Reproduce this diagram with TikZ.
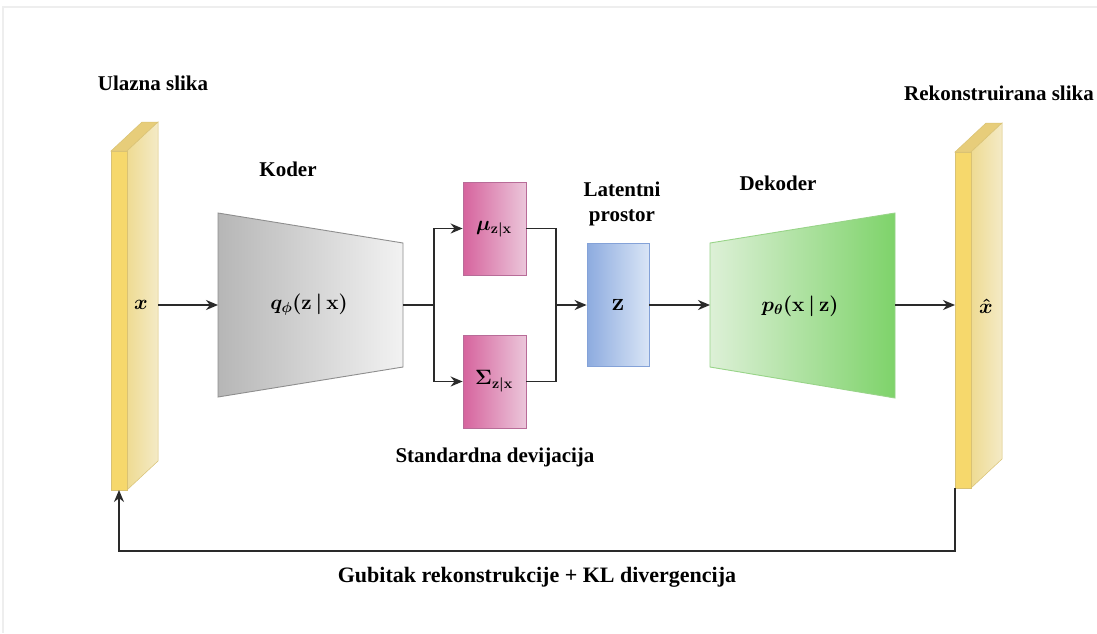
\documentclass[tikz,border=0pt]{standalone}
\usepackage{fontspec}
\setmainfont{Liberation Serif}[BoldFont={Liberation Serif Bold}]
\usetikzlibrary{arrows.meta}
\definecolor{slabfront}{HTML}{F6D86C}
\definecolor{slabsideL}{HTML}{EEDB92}
\definecolor{slabsideR}{HTML}{F4EAC6}
\definecolor{slabtop}{HTML}{E7CD7A}
\definecolor{slabedge}{HTML}{D9C274}
\definecolor{encL}{HTML}{B6B6B6}
\definecolor{encR}{HTML}{F2F2F2}
\definecolor{encedge}{HTML}{8E8E8E}
\definecolor{decL}{HTML}{DDF0D7}
\definecolor{decR}{HTML}{7ED36A}
\definecolor{decedge}{HTML}{98D488}
\definecolor{pinkL}{HTML}{D6639D}
\definecolor{pinkR}{HTML}{EBC6DA}
\definecolor{pinkedge}{HTML}{B86C98}
\definecolor{blueL}{HTML}{8DABDF}
\definecolor{blueR}{HTML}{D9E5F6}
\definecolor{blueedge}{HTML}{84A2D8}
\definecolor{wire}{HTML}{2A2A2A}
\definecolor{frameline}{HTML}{EEEEEE}
\tikzset{
  lbl/.style={font=\bfseries\fontsize{21}{24.5}\selectfont, text=black, align=center, inner sep=0pt},
  mth/.style={font=\boldmath\fontsize{19.5}{24}\selectfont, inner sep=0pt},
  arr/.style={draw=wire, line width=1.6pt, -{Stealth[length=12pt,width=10pt]}},
  wireln/.style={draw=wire, line width=1.6pt},
  pinkbox/.style={draw=pinkedge, line width=0.8pt, left color=pinkL, right color=pinkR, minimum width=63pt, minimum height=93pt, inner sep=0pt},
  bluebox/.style={draw=blueedge, line width=0.8pt, left color=blueL, right color=blueR, minimum width=62pt, minimum height=123pt, inner sep=0pt},
  ghost/.style={draw=none, inner sep=0pt, outer sep=0pt}
}
\begin{document}
\begin{tikzpicture}[x=1pt,y=-1pt]
\useasboundingbox (0,0) rectangle (1097,633);
\fill[white] (0,0) rectangle (1097,633);
\draw[frameline, line width=2pt] (3,633) -- (3,7) -- (1097,7);

% ---------- left slab ----------
\fill[slabtop, draw=slabedge, line width=0.5pt] (111,151) -- (142,122) -- (158,122) -- (127,151) -- cycle;
\shade[left color=slabsideL, right color=slabsideR, draw=slabedge, line width=0.5pt] (127,151) -- (158,122) -- (158,461) -- (127,490) -- cycle;
\node[ghost, fill=slabfront, draw=slabedge, line width=0.5pt, minimum width=16pt, minimum height=339pt] (xfront) at (119,320.5) {};
\node[ghost, minimum width=31pt, minimum height=368pt] (xside) at (142.5,305) {};
\node[mth] (xlab) at (141,305) {$x$};

% ---------- right slab ----------
\fill[slabtop, draw=slabedge, line width=0.5pt] (955,152) -- (986,123) -- (1002,123) -- (971,152) -- cycle;
\shade[left color=slabsideL, right color=slabsideR, draw=slabedge, line width=0.5pt] (971,152) -- (1002,123) -- (1002,459) -- (971,488) -- cycle;
\node[ghost, fill=slabfront, draw=slabedge, line width=0.5pt, minimum width=16pt, minimum height=336pt] (rfront) at (963,320) {};
\node[mth] (rlab) at (986,306) {$\hat{x}$};

% ---------- encoder ----------
\shade[left color=encL, right color=encR, draw=encedge, line width=0.9pt] (218,213) -- (403,243) -- (403,367) -- (218,397) -- cycle;
\node[ghost, minimum width=185pt, minimum height=184pt] (enc) at (310.5,305) {};
\node[mth] (enclab) at (309,305) {$q_{\phi}(\mathbf{z}\,|\,\mathbf{x})$};

% ---------- decoder ----------
\shade[left color=decL, right color=decR, draw=decedge, line width=0.9pt] (710,243) -- (895,213) -- (895,398) -- (710,367) -- cycle;
\node[ghost, minimum width=185pt, minimum height=185pt] (dec) at (802.5,305) {};
\node[mth] (declab) at (800,306) {$p_{\theta}(\mathbf{x}\,|\,\mathbf{z})$};

% ---------- latent boxes ----------
\node[pinkbox] (mu) at (494.5,228.5) {};
\node[mth] (mulab) at (494,229) {$\mu_{\mathbf{z}|\mathbf{x}}$};
\node[pinkbox] (sig) at (494.5,381.5) {};
\node[mth] (siglab) at (494,381) {$\mathbf{\Sigma}_{\mathbf{z}|\mathbf{x}}$};
\node[bluebox] (z) at (618,305) {};
\node[mth, font=\boldmath\fontsize{23}{26}\selectfont] (zlab) at (618,305) {$\mathbf{z}$};

\coordinate (split) at (434,305);
\coordinate (join) at (556,305);

% ---------- connectors ----------
\draw[arr] (xside.east) -- (enc.west);
\draw[wireln] (enc.east) -- (split);
\draw[arr] (split) |- (mu.west);
\draw[arr] (split) |- (sig.west);
\draw[wireln] (mu.east) -| (join);
\draw[wireln] (sig.east) -| (join);
\draw[arr] (join) -- (z.west);
\draw[arr] (z.east) -- (dec.west);
\draw[arr] (dec.east) -- (dec.east -| rfront.west);
\draw[arr] (rfront.south west) -- ++(0,63) -| (xfront.south);

% ---------- labels ----------
\node[lbl] (t1) at (153,83) {Ulazna slika};
\node[lbl] (t2) at (999,93) {Rekonstruirana slika};
\node[lbl] (t3) at (288,169) {Koder};
\node[lbl] (t4) at (778,183) {Dekoder};
\node[lbl] (t5) at (622,204) {Latentni\\prostor};
\node[lbl] (t6) at (495,457) {Standardna devijacija};
\node[lbl, font=\bfseries\fontsize{22}{25}\selectfont] (t7) at (537,577) {Gubitak rekonstrukcije + KL divergencija};
\end{tikzpicture}
\end{document}
